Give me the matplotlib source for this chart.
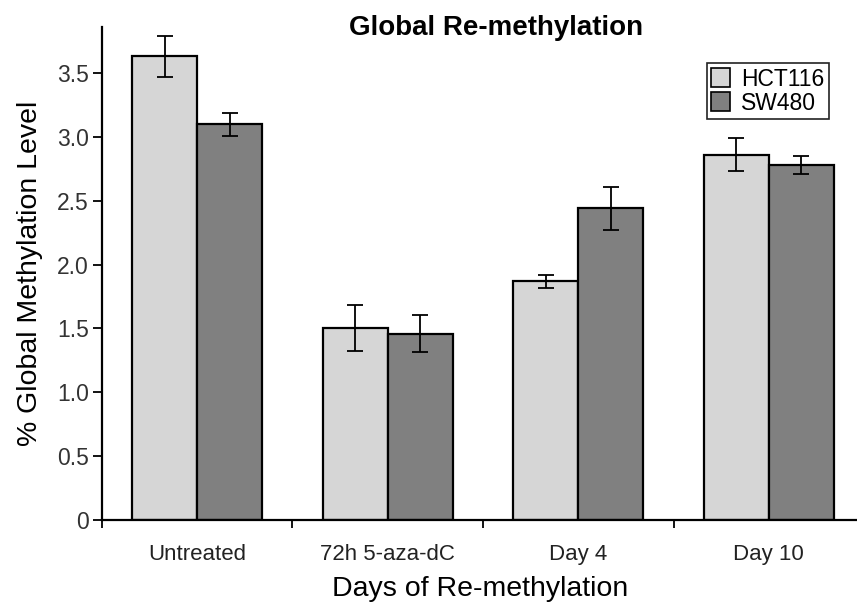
"""Global re-methylation after 5-aza-dC, HCT116 vs SW480"""

import numpy as np
import matplotlib
matplotlib.use('Agg')
import matplotlib.pyplot as plt

plt.rcParams['font.family'] = ['Liberation Sans', 'DejaVu Sans']

categories = ['Untreated', '72h 5-aza-dC', 'Day 4', 'Day 10']
hct116 = [3.63, 1.50, 1.87, 2.86]
hct116_err = [0.16, 0.18, 0.05, 0.13]
sw480 = [3.10, 1.46, 2.44, 2.78]
sw480_err = [0.09, 0.145, 0.17, 0.07]
yticks = [0, 0.5, 1.0, 1.5, 2.0, 2.5, 3.0, 3.5]
ytick_labels = ['0', '0.5', '1.0', '1.5', '2.0', '2.5', '3.0', '3.5']

LIGHT = '#d6d6d6'
DARK = '#808080'

fig = plt.figure(figsize=(8.57, 6.06), dpi=100)
ax = fig.add_axes([0.119, 0.142, 0.881, 0.8134])

x = np.arange(len(categories))
w = 0.34
bar_kw = dict(edgecolor='black', linewidth=1.6, zorder=2)
err_kw = dict(ecolor='black', elinewidth=1.3, capsize=5.5, capthick=1.3)

ax.bar(x - w / 2, hct116, w, color=LIGHT, label='HCT116',
       yerr=hct116_err, error_kw=err_kw, **bar_kw)
ax.bar(x + w / 2, sw480, w, color=DARK, label='SW480',
       yerr=sw480_err, error_kw=err_kw, **bar_kw)

ax.set_xlim(-0.5, 3.463)
ax.set_ylim(0, 3.86)

# оси: только левая и нижняя
for side in ('top', 'right'):
    ax.spines[side].set_visible(False)
for side in ('left', 'bottom'):
    ax.spines[side].set_linewidth(1.6)

ax.set_yticks(yticks)
ax.set_yticklabels(ytick_labels)
ax.tick_params(axis='y', direction='out', length=6.5, width=1.3,
               labelsize=16.5, labelcolor='#333333', pad=3)

# подписи категорий по центру, засечки - между группами
ax.set_xticks(x)
ax.set_xticklabels(categories)
ax.tick_params(axis='x', which='major', length=0, labelsize=16,
               labelcolor='#222222', pad=17)
ax.set_xticks([-0.5, 0.5, 1.5, 2.5], minor=True)
ax.tick_params(axis='x', which='minor', direction='out', length=6, width=1.3)

ax.set_ylabel('% Global Methylation Level', fontsize=20.5, labelpad=10)

fig.text(480 / 857, 1 - 589 / 606, 'Days of Re-methylation', fontsize=20.5,
         ha='center', va='center')
fig.text(496 / 857, 1 - 28 / 606, 'Global Re-methylation', fontsize=20,
         fontweight='bold', ha='center', va='center')

leg = fig.legend(loc='upper right', bbox_to_anchor=(829 / 857, 1 - 63 / 606),
                 fontsize=16.5, fancybox=False, framealpha=1,
                 edgecolor='#222222', handlelength=0.8, handleheight=0.9,
                 handletextpad=0.5, borderpad=0.2, labelspacing=0.05,
                 borderaxespad=0)
leg.get_frame().set_linewidth(1.2)
for h in leg.legend_handles:
    h.set_linewidth(1.2)

fig.savefig('out.png', dpi=100)
